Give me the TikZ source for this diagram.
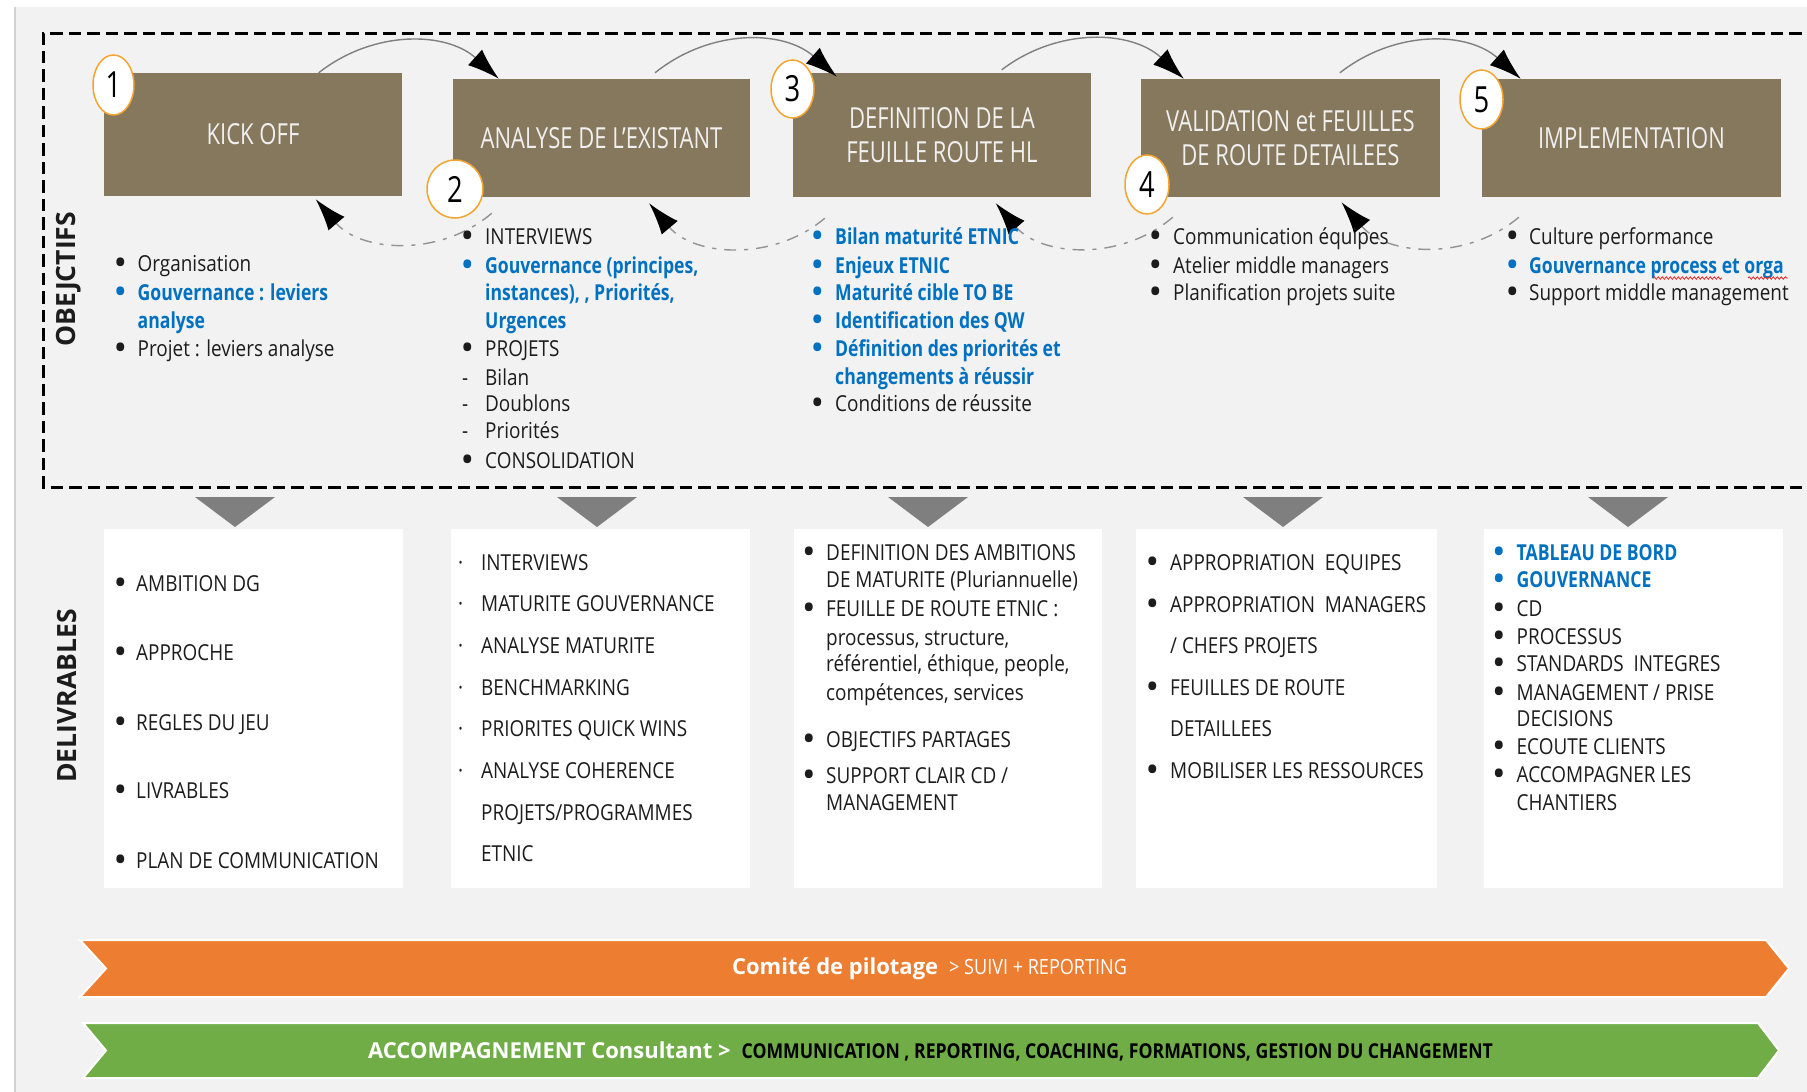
\documentclass[tikz,border=0pt]{standalone}
\usepackage{fontspec}
\setmainfont{Open Sans}[FakeStretch=0.86]
\newfontfamily\titlefont{Open Sans}[FakeStretch=0.76]
\newfontfamily\boldcond{Open Sans}[FakeStretch=0.80]
\newfontfamily\plainfont{Open Sans}
\usetikzlibrary{shapes.geometric,arrows.meta,calc,decorations.pathmorphing}
\definecolor{pagegray}{RGB}{242,242,242}
\definecolor{edgegray}{RGB}{210,210,210}
\definecolor{phasebrown}{RGB}{134,120,92}
\definecolor{titlegray}{RGB}{240,240,240}
\definecolor{ringorange}{RGB}{244,164,48}
\definecolor{arcgray}{RGB}{128,128,128}
\definecolor{trigray}{RGB}{127,127,127}
\definecolor{ink}{RGB}{28,28,28}
\definecolor{linkblue}{RGB}{0,112,192}
\definecolor{copilorange}{RGB}{237,125,49}
\definecolor{accgreen}{RGB}{112,173,71}
\definecolor{spellred}{RGB}{230,40,40}
\tikzset{
  phase/.style={fill=phasebrown, text=titlegray, minimum width=298, minimum height=118,
    inner sep=0pt, align=center, font=\titlefont\fontsize{29}{34}\selectfont},
  numring/.style={ellipse, draw=ringorange, line width=1.5pt, fill=white, inner sep=0pt,
    font=\titlefont\fontsize{36}{36}\selectfont},
  fwd/.style={arcgray, line width=1.4pt, -{Latex[length=32pt,width=21pt,color=black]}, bend left=40},
  back/.style={arcgray!85, line width=1.4pt, dash pattern=on 12pt off 8pt on 4pt off 8pt,
    -{Latex[length=32pt,width=21pt,color=black]}, bend left=45},
  livr/.style={fill=white, minimum height=359, inner sep=0pt},
  li/.style={anchor=base west, inner sep=0pt, text=ink, font=\fontsize{22}{26}\selectfont},
  blu/.style={text=linkblue, font=\boldcond\bfseries\fontsize{22}{26}\selectfont},
  side/.style={rotate=90, text=ink, font=\plainfont\bfseries\fontsize{26.5}{30}\selectfont},
  bartext/.style={text=white, font=\plainfont\bfseries\fontsize{22}{22}\selectfont},
  ribbon/.style={draw=white, line width=2pt},
  frame/.style={line width=3pt, dash pattern=on 12.5pt off 6pt},
  tri/.style={fill=trigray},
  squig/.style={spellred, line width=0.8pt, decorate, decoration={snake, amplitude=1.2pt, segment length=4pt}}
}
\newcommand{\bul}{\raisebox{-1.5pt}{\plainfont\bfseries\fontsize{28}{26}\selectfont •}}
\newcommand{\itemcol}[4]{%
  \foreach \y/\mk/\sty/\txt [count=\i] in {#4} {
    \node[li,\sty] (#3m\i) at (#1,\y+8) {\mk};
    \node[li,\sty] (#3\i) at (#2,\y+8) {\txt};
  }}
\begin{document}
\begin{tikzpicture}[x=1pt,y=-1pt]
	\useasboundingbox (0,0) rectangle (1807,1092);
	\fill[white] (0,0) rectangle (1807,1092);
	\fill[pagegray] (14,7) rectangle (1807,1092);
	\draw[edgegray, line width=2.5pt] (15,7) -- (15,1092);
	\draw[frame] (1820,33) -- (43,33) -- (43,487) -- (1820,487);
	\node[side] (obj) at (69,279) {OBEJCTIFS};
	\node[side] (del) at (67,696) {DELIVRABLES};

	\node[phase, minimum height=123] (kick) at (253,134.5) {KICK OFF};
	\node[phase, minimum width=297] (anl) at (601.5,138) {ANALYSE DE L’EXISTANT};
	\node[phase, minimum height=124] (defn) at (942,135) {DEFINITION DE LA\\FEUILLE ROUTE HL};
	\node[phase, minimum width=299] (valid) at (1290.5,138) {VALIDATION et FEUILLES\\DE ROUTE DETAILEES};
	\node[phase, minimum width=299] (impl) at (1631.5,138) {IMPLEMENTATION};

	\draw[fwd] ($(kick.north west)!0.72!(kick.north east)$) to ($(anl.north west)!0.155!(anl.north east)$);
	\draw[fwd] ($(anl.north west)!0.68!(anl.north east)+(0,-6)$) to ($(defn.north west)!0.148!(defn.north east)+(0,4)$);
	\draw[fwd] ($(defn.north west)!0.70!(defn.north east)+(0,-3)$) to ($(valid.north west)!0.144!(valid.north east)$);
	\draw[fwd] ($(valid.north west)!0.665!(valid.north east)+(0,-6)$) to ($(impl.north west)!0.13!(impl.north east)$);
	\draw[back] ($(anl.south west)+(39,16)$) to ($(kick.south west)!0.71!(kick.south east)+(0,3)$);
	\draw[back] ($(defn.south west)+(32,21)$) to ($(anl.south west)!0.66!(anl.south east)+(0,6)$);
	\draw[back] ($(valid.south west)+(32,20)$) to ($(defn.south west)!0.68!(defn.south east)+(0,6)$);
	\draw[back] ($(impl.south west)+(37,20)$) to ($(valid.south west)!0.67!(valid.south east)+(0,5)$);

	\node[numring, minimum width=41, minimum height=60] (n1) at (113.5,85) {1};
	\node[numring, minimum width=56, minimum height=58] (n2) at (455,189) {2};
	\node[numring, minimum width=43, minimum height=58] (n3) at (792.5,89) {3};
	\node[numring, minimum width=44, minimum height=59] (n4) at (1147,184.5) {4};
	\node[numring, minimum width=43, minimum height=59] (n5) at (1481.5,99.5) {5};

	\itemcol{115}{137.5}{oa}{263/\bul/li/Organisation, 292/\bul/blu/{Gouvernance : leviers}, 320//blu/analyse,
		348/\bul/li/{Projet : leviers analyse}}
	\itemcol{462}{485}{ob}{236/\bul/li/INTERVIEWS, 265/\bul/blu/{Gouvernance (principes,}, 292//blu/{instances), , Priorités,},
		320//blu/Urgences, 348/\bul/li/PROJETS, 377/-/li/Bilan, 403/-/li/Doublons, 430/-/li/Priorités,
		460/\bul/li/CONSOLIDATION}
	\itemcol{812}{835}{oc}{236/\bul/blu/{Bilan maturité ETNIC}, 265/\bul/blu/{Enjeux ETNIC}, 292/\bul/blu/{Maturité cible TO BE},
		320/\bul/blu/{Identification des QW}, 348/\bul/blu/{Définition des priorités et}, 376//blu/{changements à réussir},
		403/\bul/li/{Conditions de réussite}}
	\itemcol{1150}{1173}{od}{236/\bul/li/{Communication équipes}, 265/\bul/li/{Atelier middle managers},
		292/\bul/li/{Planification projets suite}}
	\itemcol{1507}{1529}{oe}{236/\bul/li/{Culture performance}, 265/\bul/blu/{Gouvernance process et orga},
		292/\bul/li/{Support middle management}}
	\draw[squig] (1653,278) -- (1722,278);
	\draw[squig] (1748,278) -- (1788,278);

	\foreach \x in {235,597,928,1283,1628}
		\fill[tri] (\x-40,497) -- (\x+40,497) -- (\x,527) -- cycle;
	\node[livr, minimum width=299] (d1) at (253.5,708.5) {};
	\node[livr, minimum width=299] (d2) at (600.5,708.5) {};
	\node[livr, minimum width=308] (d3) at (948,708.5) {};
	\node[livr, minimum width=301] (d4) at (1286.5,708.5) {};
	\node[livr, minimum width=299] (d5) at (1633.5,708.5) {};

	\itemcol{115}{136}{da}{583/\bul/li/{AMBITION DG}, 652/\bul/li/APPROCHE, 722/\bul/li/{REGLES DU JEU}, 790/\bul/li/LIVRABLES,
		860/\bul/li/{PLAN DE COMMUNICATION}}
	\itemcol{458}{481}{db}{562/·/li/INTERVIEWS, 603/·/li/{MATURITE GOUVERNANCE}, 645/·/li/{ANALYSE MATURITE},
		687/·/li/BENCHMARKING, 728/·/li/{PRIORITES QUICK WINS}, 770/·/li/{ANALYSE COHERENCE},
		812//li/{PROJETS/PROGRAMMES}, 853//li/ETNIC}
	\itemcol{803.5}{826}{dc}{552/\bul/li/{DEFINITION DES AMBITIONS}, 579//li/{DE MATURITE (Pluriannuelle)},
		608/\bul/li/{FEUILLE DE ROUTE ETNIC :}, 637//li/{processus, structure,}, 663//li/{référentiel, éthique, people,},
		692//li/{compétences, services}, 739/\bul/li/{OBJECTIFS PARTAGES}, 775/\bul/li/{SUPPORT CLAIR CD /},
		802//li/MANAGEMENT}
	\itemcol{1147}{1170}{dd}{562/\bul/li/{APPROPRIATION\ \ EQUIPES}, 604/\bul/li/{APPROPRIATION\ \ MANAGERS},
		645//li/{/ CHEFS PROJETS}, 687/\bul/li/{FEUILLES DE ROUTE}, 728//li/DETAILLEES, 770/\bul/li/{MOBILISER LES RESSOURCES}}
	\itemcol{1493.5}{1516.5}{de}{552/\bul/blu/{TABLEAU DE BORD}, 579/\bul/blu/GOUVERNANCE, 608/\bul/li/CD, 636/\bul/li/PROCESSUS,
		663/\bul/li/{STANDARDS\ \ INTEGRES}, 692/\bul/li/{MANAGEMENT / PRISE}, 718//li/DECISIONS, 746/\bul/li/{ECOUTE CLIENTS},
		774/\bul/li/{ACCOMPAGNER LES}, 802//li/CHANTIERS}

	\fill[copilorange] (80,940) -- (1766,940) -- (1789,968.5) -- (1766,997) -- (80,997) -- (106,968.5) -- cycle;
	\draw[ribbon] (80,940) -- (1766,940) -- (1789,968.5) -- (1766,997) -- (80,997) -- (106,968.5) -- cycle;
	\fill[accgreen] (83,1023) -- (1758,1023) -- (1779,1050.5) -- (1758,1078) -- (83,1078) -- (106,1050.5) -- cycle;
	\draw[ribbon] (83,1023) -- (1758,1023) -- (1779,1050.5) -- (1758,1078) -- (83,1078) -- (106,1050.5) -- cycle;
	\node[bartext] (copil) at (929.5,969) {Comité de pilotage\enspace{\normalfont\fontsize{21}{21}\selectfont > SUIVI + REPORTING}};
	\node[bartext] (accomp) at (930.5,1051) {ACCOMPAGNEMENT Consultant >\enspace{\normalfont\fontsize{20.5}{20.5}\selectfont\bfseries\color{black}COMMUNICATION , REPORTING, COACHING, FORMATIONS, GESTION DU CHANGEMENT}};
\end{tikzpicture}
\end{document}
